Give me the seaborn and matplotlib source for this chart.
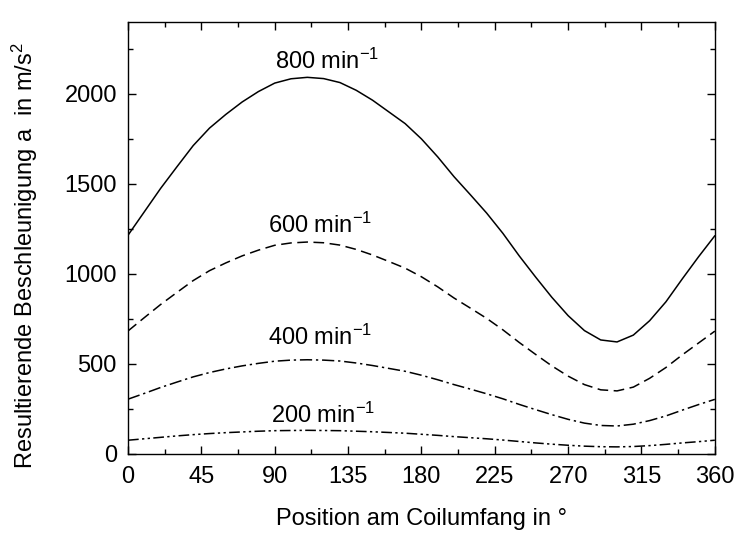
import numpy as np
import pandas as pd
import matplotlib
matplotlib.use("Agg")
import matplotlib.pyplot as plt
from matplotlib.ticker import MultipleLocator
import seaborn as sns

# Position am Coilumfang in Grad (10-Grad-Raster)
position = list(range(0, 361, 10))

# Resultierende Beschleunigung in m/s^2
a_800 = [1215, 1345, 1475, 1595, 1713, 1810, 1886, 1955, 2013, 2060, 2084, 2092, 2085,
         2063, 2020, 1965, 1900, 1835, 1750, 1650, 1540, 1440, 1338, 1225, 1100, 983,
         870, 768, 685, 633, 622, 660, 740, 845, 972, 1095, 1212]
a_600 = [683, 757, 830, 897, 963, 1018, 1061, 1100, 1132, 1159, 1172, 1177, 1173,
         1160, 1136, 1105, 1069, 1032, 984, 928, 866, 810, 753, 689, 619, 553,
         489, 432, 385, 356, 350, 371, 420, 480, 550, 616, 682]
a_400 = [304, 336, 369, 399, 428, 452, 472, 489, 503, 515, 521, 523, 521,
         516, 505, 491, 475, 459, 437, 412, 385, 360, 334, 306, 275, 246,
         218, 192, 171, 158, 155, 165, 185, 211, 243, 274, 303]
a_200 = [76, 84, 92, 100, 107, 113, 118, 122, 126, 129, 130, 131, 130,
         129, 126, 123, 119, 115, 109, 103, 96, 90, 84, 77, 69, 61,
         54, 48, 43, 40, 39, 41, 46, 53, 61, 68, 76]

speeds = ["800", "600", "400", "200"]
label_x = [122, 118, 118, 120]
label_y = [2137, 1229, 606, 174]

df = pd.concat([
    pd.DataFrame({"pos": position, "a": vals, "n": s})
    for s, vals in zip(speeds, [a_800, a_600, a_400, a_200])
])

sns.set_style("ticks")
plt.rcParams["font.family"] = ["Liberation Sans", "DejaVu Sans"]
plt.rcParams["mathtext.fontset"] = "custom"
plt.rcParams["mathtext.rm"] = "Liberation Sans"
plt.rcParams["mathtext.it"] = "Liberation Sans:italic"
plt.rcParams["text.color"] = "black"
plt.rcParams["axes.labelcolor"] = "black"

fig = plt.figure(figsize=(7.4, 5.34), dpi=100)
ax = fig.add_axes([0.173, 0.150, 0.793, 0.809])

dash_map = {
    "800": "",
    "600": (7, 3.6),
    "400": (8, 2.5, 1.5, 2.5),
    "200": (7, 2.2, 1.5, 2.2, 1.5, 2.2),
}
sns.lineplot(data=df, x="pos", y="a", style="n", dashes=dash_map,
             color="black", linewidth=1.1, legend=False, ax=ax, sort=False,
             solid_joinstyle="round", dash_joinstyle="round")

for s, lx, ly in zip(speeds, label_x, label_y):
    ax.text(lx, ly, f"{s} min$^{{-1}}$", ha="center", va="baseline",
            fontsize=17, color="black")

ax.set_xlim(0, 360)
ax.set_ylim(0, 2400)
ax.xaxis.set_major_locator(MultipleLocator(45))
ax.xaxis.set_minor_locator(MultipleLocator(22.5))
ax.yaxis.set_major_locator(MultipleLocator(500))
ax.yaxis.set_minor_locator(MultipleLocator(250))

ax.tick_params(which="both", direction="in", top=True, right=True, width=1.0,
               labelsize=17, colors="black")
ax.tick_params(which="major", length=6)
ax.tick_params(which="minor", length=3.5)
ax.tick_params(axis="x", which="major", pad=9)
ax.tick_params(axis="y", which="major", pad=8)
for sp in ax.spines.values():
    sp.set_linewidth(1.0)
    sp.set_color("black")

ax.set_xlabel("Position am Coilumfang in °", fontsize=17, va="baseline", color="black")
ax.set_ylabel("Resultierende Beschleunigung a  in m/s$^2$", fontsize=17, color="black")
ax.xaxis.set_label_coords(0.5, -0.164)
ax.yaxis.set_label_coords(-0.150, 0.458)

fig.savefig("out.png", dpi=100)
